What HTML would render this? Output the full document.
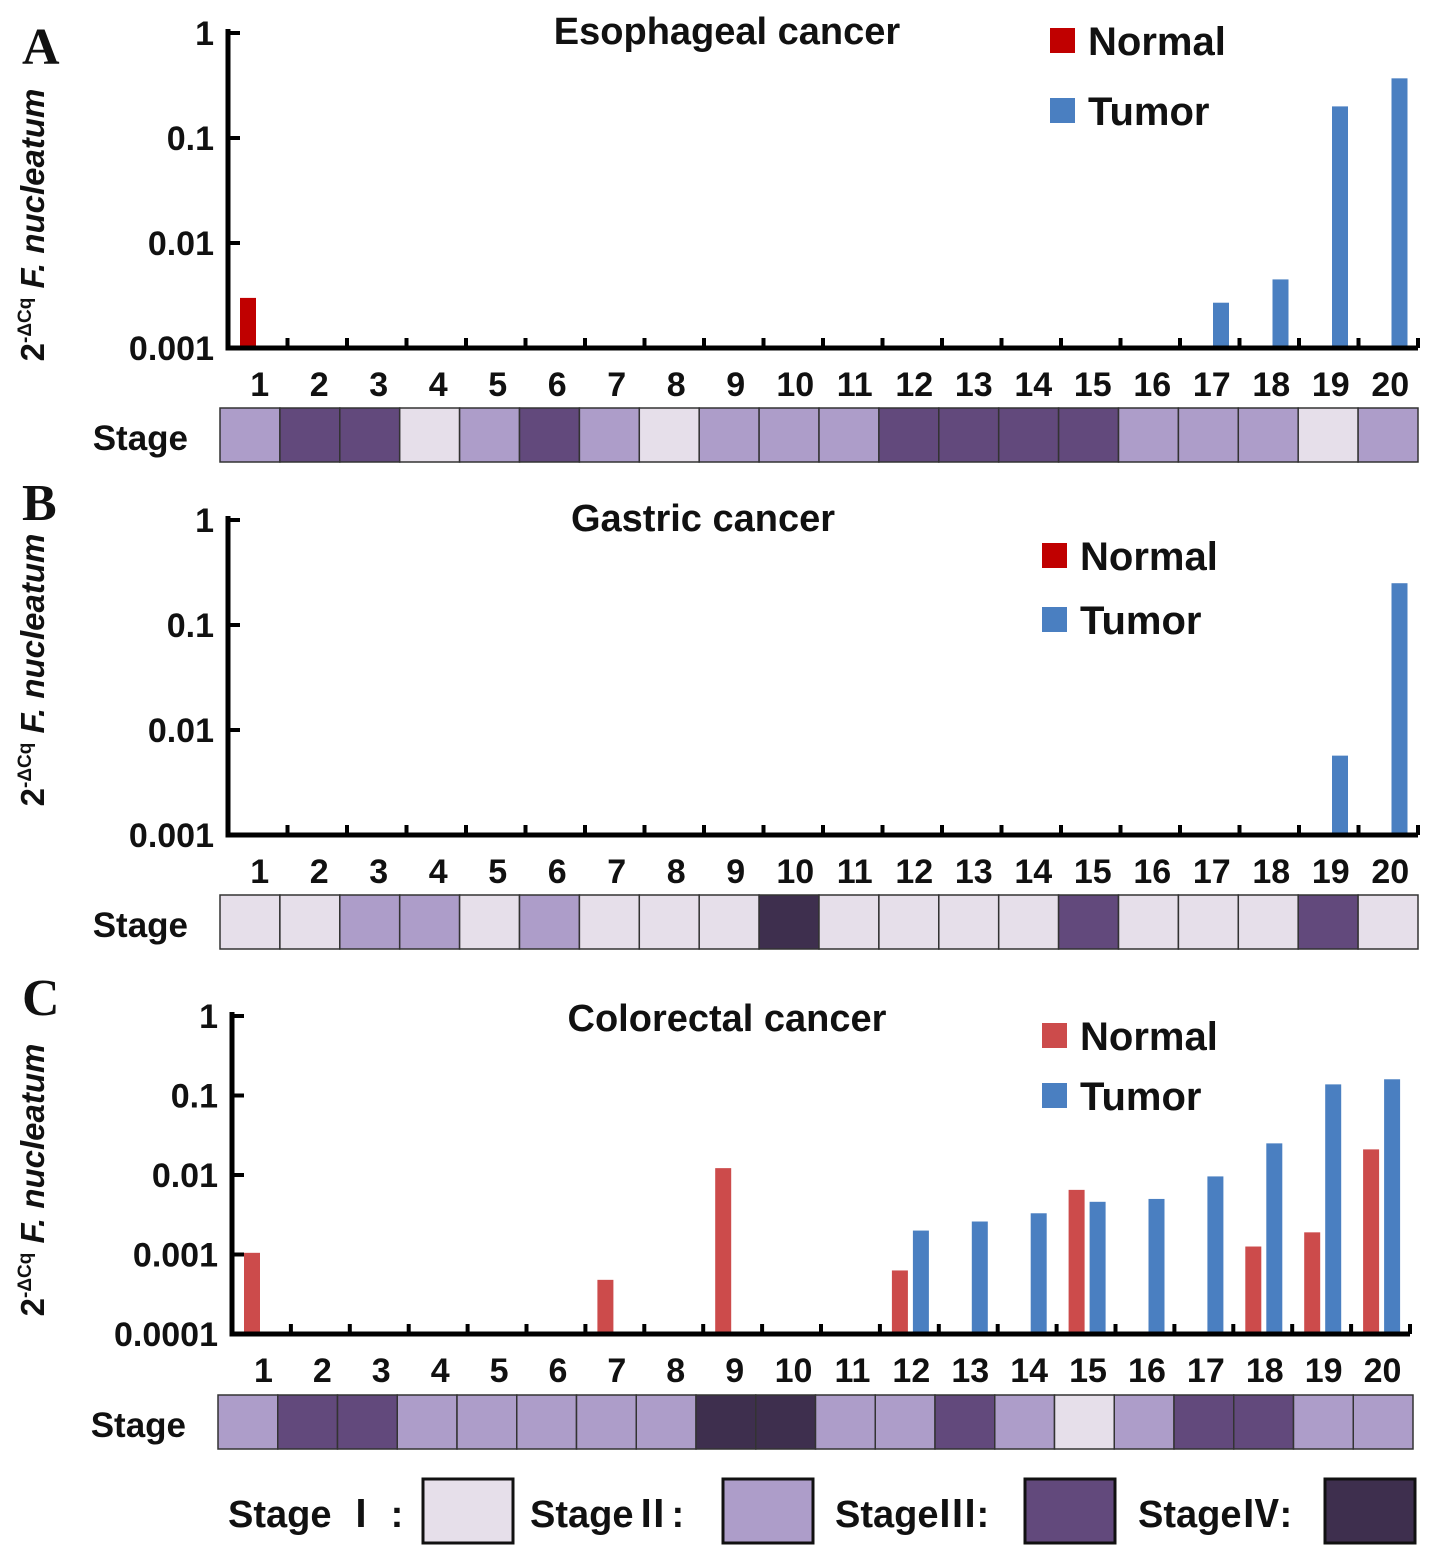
<!DOCTYPE html>
<html><head><meta charset="utf-8"><style>
body{margin:0;background:#fff}
svg text{font-family:"Liberation Sans","Noto Sans CJK JP",sans-serif;font-weight:bold;fill:#111}
</style></head><body>
<svg id="fig" width="1441" height="1557" viewBox="0 0 1441 1557" xmlns="http://www.w3.org/2000/svg"></svg>
<script>
const categories=[1,2,3,4,5,6,7,8,9,10,11,12,13,14,15,16,17,18,19,20];
const escNormal=[0.003,null,null,null,null,null,null,null,null,null,null,null,null,null,null,null,null,null,null,null];
const escTumor=[null,null,null,null,null,null,null,null,null,null,null,null,null,null,null,null,0.0027,0.0045,0.2,0.37];
const gasNormal=[null,null,null,null,null,null,null,null,null,null,null,null,null,null,null,null,null,null,null,null];
const gasTumor=[null,null,null,null,null,null,null,null,null,null,null,null,null,null,null,null,null,null,0.0057,0.25];
const crcNormal=[0.00105,null,null,null,null,null,0.00048,null,0.0122,null,null,0.00063,null,null,0.0065,null,null,0.00126,0.0019,0.021];
const crcTumor=[null,null,null,null,null,null,null,null,null,null,null,0.002,0.0026,0.0033,0.0046,0.005,0.0096,0.025,0.138,0.16];
const escStage=[2,3,3,1,2,3,2,1,2,2,2,3,3,3,3,2,2,2,1,2];
const gasStage=[1,1,2,2,1,2,1,1,1,4,1,1,1,1,3,1,1,1,3,1];
const crcStage=[2,3,3,2,2,2,2,2,4,4,2,2,3,2,1,2,3,3,2,2];
const ticks3=["1","0.1","0.01","0.001"];
const ticks4=["1","0.1","0.01","0.001","0.0001"];
const stageNames=["Stage Ⅰ :","StageⅡ:","StageⅢ:","StageⅣ:"];
const stageColors=["#e6dfea","#ad9dc9","#62497c","#3e2f4e"];
const svg=document.getElementById('fig');
const NS="http://www.w3.org/2000/svg";
function mk(tag,attrs,parent){const e=document.createElementNS(NS,tag);for(const k in attrs)e.setAttribute(k,attrs[k]);(parent||svg).appendChild(e);return e;}
function panel(o){
  const g=mk('g',{});
  
  
  const dec=(o.yBot-o.yTop)/(o.ticks.length-1);
  const minLog=-(o.ticks.length-1);
  const yScale=v=>o.yBot-(Math.log10(v)-minLog)*dec;
  const cw=(o.xEnd-o.x0)/categories.length;
  const xScale=i=>o.x0+i*cw;
  let t=mk('text',{x:o.lx,y:o.ly,'font-size':52,'style':'font-family:"Liberation Serif",serif'},g);t.textContent=o.id;
  
  t=mk('text',{x:o.tx,y:o.ty,'font-size':38,'text-anchor':'middle'},g);t.textContent=o.title;
  
  const cy=o.ycy;
  t=mk('text',{x:0,y:0,'font-size':33,'text-anchor':'middle',transform:`translate(44,${cy}) rotate(-90)`},g);
  
  t.innerHTML='2<tspan font-size="19" dy="-13">-ΔCq</tspan><tspan dy="13" font-style="italic"> F. nucleatum</tspan>';
  categories.forEach((c,i)=>{
    const n=o.normal[i],tu=o.tumor[i];
    if(n!=null){const r=mk('rect',{x:xScale(i)+12,y:yScale(n),width:16,height:o.yBot-yScale(n),fill:o.red},g);
      }
    if(tu!=null){const r=mk('rect',{x:xScale(i)+33,y:yScale(tu),width:16,height:o.yBot-yScale(tu),fill:'#4a7fc1'},g);
      }
  });
  let a=mk('path',{d:`M${o.x0},${o.yTop-4}V${o.yBot}H${o.xEnd}`,stroke:'#000','stroke-width':5,fill:'none'},g);
  
  o.ticks.forEach((lab,k)=>{
    const y=o.yTop+k*dec;
    mk('line',{x1:o.x0,x2:o.x0+12,y1:y,y2:y,stroke:'#000','stroke-width':4},g);
    const tt=mk('text',{x:o.x0-14,y:y+12,'font-size':34,'text-anchor':'end'},g);tt.textContent=lab;
    
  });
  categories.forEach((c,i)=>{
    mk('line',{x1:xScale(i+1),x2:xScale(i+1),y1:o.yBot,y2:o.yBot-10,stroke:'#000','stroke-width':4},g);
    const tt=mk('text',{x:xScale(i)+cw/2+2,y:o.yBot+48,'font-size':34,'text-anchor':'middle'},g);tt.textContent=c;
    
  });
  t=mk('text',{x:o.sx0-32,y:o.sy+42,'font-size':35,'text-anchor':'end'},g);t.textContent='Stage';
  
  const sw=(o.sx1-o.sx0)/20;
  o.stage.forEach((s,i)=>{const r=mk('rect',{x:o.sx0+i*sw,y:o.sy,width:sw,height:54,fill:stageColors[s-1],stroke:'#333','stroke-width':1.5},g);
    });
  [[o.red,'Normal',o.leg[1]],['#4a7fc1','Tumor',o.leg[2]]].forEach(([col,lab,y])=>{
    const r=mk('rect',{x:o.leg[0],y:y,width:25,height:25,fill:col},g);
    
    const tt=mk('text',{x:o.leg[0]+38,y:y+27,'font-size':40},g);tt.textContent=lab;
    
  });
}
panel({id:'A',title:'Esophageal cancer',lx:22,ly:64,tx:727,ty:44,x0:228,xEnd:1418,yTop:33,yBot:348,ycy:225,ticks:ticks3,normal:escNormal,tumor:escTumor,red:'#c00000',stage:escStage,sx0:220,sx1:1418,sy:408,leg:[1050,28,98]});
panel({id:'B',title:'Gastric cancer',lx:22,ly:520,tx:703,ty:531,x0:228,xEnd:1418,yTop:520,yBot:835,ycy:670,ticks:ticks3,normal:gasNormal,tumor:gasTumor,red:'#c00000',stage:gasStage,sx0:220,sx1:1418,sy:895,leg:[1042,543,607]});
panel({id:'C',title:'Colorectal cancer',lx:22,ly:1015,tx:727,ty:1031,x0:232,xEnd:1410,yTop:1016,yBot:1334,ycy:1180,ticks:ticks4,normal:crcNormal,tumor:crcTumor,red:'#cc4b4b',stage:crcStage,sx0:218,sx1:1413,sy:1395,leg:[1042,1023,1083]});
const lg=mk('g',{});


const lx=[[228,423],[530,723],[835,1025],[1138,1325]];
stageNames.forEach((nm,i)=>{
  const t=mk('text',{x:lx[i][0],y:1527,'font-size':38},lg);t.textContent=nm;
  
  const r=mk('rect',{x:lx[i][1],y:1479,width:90,height:64,fill:stageColors[i],stroke:'#111','stroke-width':3},lg);
  
});
</script>
</body></html>
